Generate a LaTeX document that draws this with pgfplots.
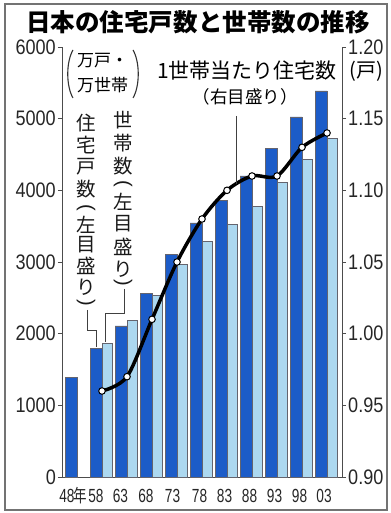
\documentclass[border=0pt]{standalone}
\usepackage{pgfplots}
\pgfplotsset{compat=1.18}
\usepackage{fontspec}
\setmainfont{Liberation Sans}
\newfontfamily\cjk{Noto Sans CJK JP}
\definecolor{darkbar}{RGB}{28,92,200}
\definecolor{lightbar}{RGB}{172,216,240}
\definecolor{edgec}{RGB}{100,100,110}
\newcommand{\ny}[1]{\scalebox{0.86}[1]{#1}}
\newcommand{\nx}[1]{\scalebox{0.72}[1]{#1}}
\newcommand{\vl}{\rotatebox{-90}{\fontspec{Liberation Sans}\fontsize{20bp}{20bp}\selectfont(}}
\newcommand{\vr}{\rotatebox{-90}{\fontspec{Liberation Sans}\fontsize{20bp}{20bp}\selectfont)}}
\begin{document}
\begin{tikzpicture}
\begin{axis}[
  scale only axis, width=280bp, height=430bp,
  xmin=-0.6, xmax=10.6, ymin=0, ymax=6000,
  axis x line*=bottom, axis y line*=left,
  axis line style={draw=black!70, line width=0.9bp, -},
  tick align=outside, major tick length=4bp,
  tick style={draw=black!70, line width=0.8bp},
  xtick=\empty,
  ytick={0,1000,2000,3000,4000,5000,6000},
  yticklabels={\ny{0},\ny{1000},\ny{2000},\ny{3000},\ny{4000},\ny{5000},\ny{6000}},
  yticklabel style={font=\fontsize{21bp}{21bp}\selectfont, text=black!85, inner sep=0pt, xshift=-2bp},
  clip=false,
]
\addplot[ybar, bar width=12bp, bar shift=-6bp, fill=darkbar, draw=edgec, line width=0.5bp]
 coordinates {(0,1391) (1,1793) (2,2109) (3,2559) (4,3106) (5,3545) (6,3861) (7,4201) (8,4588) (9,5025) (10,5389)};
\addplot[ybar, bar width=10bp, bar shift=5bp, fill=lightbar, draw=edgec, line width=0.5bp]
 coordinates {(1,1865) (2,2182) (3,2532) (4,2965) (5,3284) (6,3520) (7,3781) (8,4116) (9,4436) (10,4726)};
\end{axis}
\begin{axis}[
  scale only axis, width=280bp, height=430bp,
  xmin=-0.6, xmax=10.6, ymin=0.9, ymax=1.2,
  axis x line=none, axis y line*=right,
  axis line style={draw=black!70, line width=0.9bp, -},
  tick align=outside, major tick length=4bp,
  tick style={draw=black!70, line width=0.8bp},
  ytick={0.9,0.95,1.0,1.05,1.1,1.15,1.2},
  yticklabels={\ny{0.90},\ny{0.95},\ny{1.00},\ny{1.05},\ny{1.10},\ny{1.15},\ny{1.20}},
  yticklabel style={font=\fontsize{21bp}{21bp}\selectfont, text=black!85, inner sep=0pt, xshift=2bp},
  clip=false,
]
\addplot[black, line width=3.5bp, smooth, mark=*, mark size=3.3bp,
  mark options={fill=white, draw=black, line width=1bp}]
 coordinates {(1,0.96) (2,0.97) (3,1.01) (4,1.05) (5,1.08) (6,1.10) (7,1.11) (8,1.11) (9,1.13) (10,1.14)};
\end{axis}
\begin{scope}[x=1bp, y=-1bp, shift={(-62bp,477bp)}]
  \draw[black!55, line width=1.2bp] (5,4) rectangle (387,510);
  \node[font=\cjk\bfseries\fontsize{24.5bp}{26bp}\selectfont] at (198,22) {日本の住宅戸数と世帯数の推移};
  % x category labels
  \begin{scope}[every node/.style={anchor=base, inner sep=0pt, text=black!85, font=\fontsize{19bp}{19bp}\selectfont}]
    \node at (67,502) {\nx{48}};
    \node[font=\cjk\fontsize{18bp}{18bp}\selectfont] at (80.5,502) {\scalebox{0.75}[1]{年}};
    \node at (96,502) {\nx{58}};
    \node at (120.5,502) {\nx{63}};
    \node at (146,502) {\nx{68}};
    \node at (172.5,502) {\nx{73}};
    \node at (199.5,502) {\nx{78}};
    \node at (224.5,502) {\nx{83}};
    \node at (249.5,502) {\nx{88}};
    \node at (274.5,502) {\nx{93}};
    \node at (299.5,502) {\nx{98}};
    \node at (324,502) {\nx{03}};
  \end{scope}
  % unit label left
  \node[anchor=west, inner sep=0pt, font=\cjk\fontsize{17bp}{17bp}\selectfont] at (77,61) {万戸・};
  \node[anchor=west, inner sep=0pt, font=\cjk\fontsize{17bp}{17bp}\selectfont] at (77,85) {万世帯};
  \draw[black!80, line width=1.1bp] (73,50) .. controls (66,62) and (66,86) .. (73,98);
  \draw[black!80, line width=1.1bp] (133,50) .. controls (140,62) and (140,86) .. (133,98);
  % vertical labels (one character per node)
  \begin{scope}[every node/.style={inner sep=0pt, text=black!90, font=\cjk\fontsize{19.5bp}{19.5bp}\selectfont}]
    \foreach \yy/\ch in {123/住,145/宅,167/戸,189/数,208/\vl,225/左,245/目,266/盛,287/り,303/\vr}
      \node at (86,\yy) {\ch};
    \foreach \yy/\ch in {120/世,143/帯,166/数,184/\vl,202/左,224/目,247/盛,269/り,283/\vr}
      \node at (123,\yy) {\ch};
  \end{scope}
  \draw[black!75, line width=0.8bp] (87,310) -- (87,330) -- (96,330) -- (96,347);
  \draw[black!75, line width=0.8bp] (124,289) -- (124,313) -- (105,313) -- (105,342);
  % right label
  \node[anchor=west, inner sep=0pt, font=\cjk\fontsize{21bp}{21bp}\selectfont] at (157,71) {1世帯当たり住宅数};
  \node[inner sep=0pt, font=\cjk\fontsize{17.5bp}{17.5bp}\selectfont] at (245,97) {（右目盛り）};
  \node[inner sep=0pt, font=\cjk\fontsize{20bp}{20bp}\selectfont] at (366,71) {(戸)};
  \draw[black!75, line width=0.8bp] (236,116) -- (236,184);
  \pgfresetboundingbox
  \path[use as bounding box] (0,0) rectangle (390,513);
\end{scope}
\end{tikzpicture}
\end{document}
